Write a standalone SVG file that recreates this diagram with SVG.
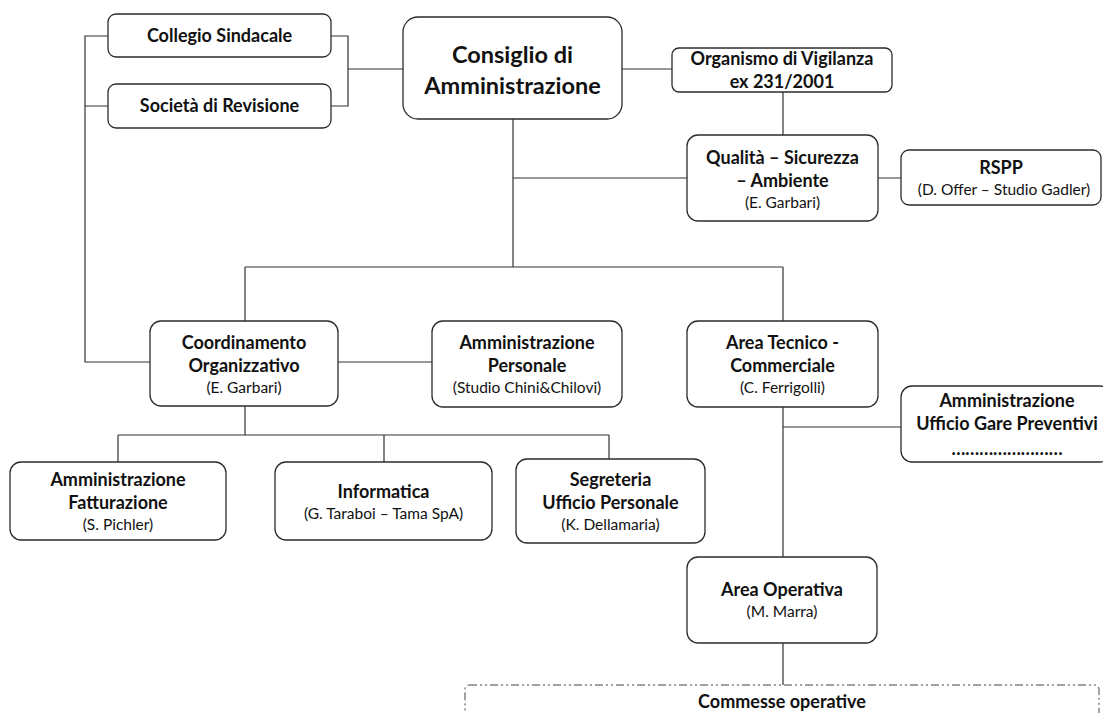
<svg xmlns="http://www.w3.org/2000/svg" width="1103" height="713" viewBox="0 0 1103 713">
<style>
.box{fill:#fff;stroke:#2b2b2b;stroke-width:1.3}
.ln{fill:none;stroke:#333;stroke-width:1.2}
.t{font-family:Lato,"Liberation Sans",sans-serif;font-weight:bold;font-size:18px;fill:#111;text-anchor:middle}
.s{font-family:Lato,"Liberation Sans",sans-serif;font-size:15.5px;fill:#111;text-anchor:middle}
.big{font-size:23.5px}
</style>
<rect width="1103" height="713" fill="#fff"/>
<g id="connectors">
<path class="ln" d="M331 36H348V106H331M348 69H403"/>
<path class="ln" d="M108 36H85V362H150M85 106H108"/>
<path class="ln" d="M622 69H672M783 92V135M878 178H901"/>
<path class="ln" d="M513 119V267M513 178H687M245 267H783M245 267V321M783 267V321"/>
<path class="ln" d="M338 362H432"/>
<path class="ln" d="M783 407V558M783 427H901M783 643V685"/>
<path class="ln" d="M245 406V435M118 435H609M118 435V462M384 435V462M609 435V459"/>
</g>
<g id="collegio"><rect class="box" x="108" y="14" width="223" height="43" rx="8"/><text class="t" x="219.5" y="42">Collegio Sindacale</text></g>
<g id="revisione"><rect class="box" x="108" y="84" width="223" height="44" rx="8"/><text class="t" x="219.5" y="112">Società di Revisione</text></g>
<g id="consiglio"><rect class="box" x="403" y="17" width="219" height="102" rx="15"/><text class="t big" x="512.5" y="63">Consiglio di</text><text class="t big" x="512.5" y="94">Amministrazione</text></g>
<g id="organismo"><rect class="box" x="672" y="48" width="220" height="44" rx="7"/><text class="t" x="782" y="65">Organismo di Vigilanza</text><text class="t" x="782" y="88">ex 231/2001</text></g>
<g id="qualita"><rect class="box" x="687" y="135" width="191" height="86" rx="11"/><text class="t" x="782.5" y="164">Qualità – Sicurezza</text><text class="t" x="782.5" y="187">– Ambiente</text><text class="s" x="782.5" y="208">(E. Garbari)</text></g>
<g id="rspp"><rect class="box" x="901" y="150" width="200" height="55" rx="8"/><text class="t" x="1001" y="174">RSPP</text><text class="s" x="1004" y="195">(D. Offer – Studio Gadler)</text></g>
<g id="coordinamento"><rect class="box" x="150" y="321" width="188" height="85" rx="11"/><text class="t" x="244" y="349">Coordinamento</text><text class="t" x="244" y="372">Organizzativo</text><text class="s" x="244" y="393">(E. Garbari)</text></g>
<g id="personale"><rect class="box" x="432" y="321" width="190" height="86" rx="11"/><text class="t" x="527" y="349">Amministrazione</text><text class="t" x="527" y="372">Personale</text><text class="s" x="527" y="393">(Studio Chini&amp;Chilovi)</text></g>
<g id="tecnico"><rect class="box" x="687" y="321" width="191" height="86" rx="11"/><text class="t" x="782.5" y="349">Area Tecnico -</text><text class="t" x="782.5" y="372">Commerciale</text><text class="s" x="782.5" y="393">(C. Ferrigolli)</text></g>
<g id="gare"><rect class="box" x="901" y="386" width="210" height="76" rx="11"/><text class="t" x="1007" y="407">Amministrazione</text><text class="t" x="1007" y="430">Ufficio Gare Preventivi</text><text class="t" x="1007" y="455">……………………</text></g>
<g id="fatturazione"><rect class="box" x="10" y="462" width="216" height="78" rx="11"/><text class="t" x="118" y="486">Amministrazione</text><text class="t" x="118" y="509">Fatturazione</text><text class="s" x="118" y="530">(S. Pichler)</text></g>
<g id="informatica"><rect class="box" x="275" y="462" width="217" height="78" rx="11"/><text class="t" x="383.5" y="498">Informatica</text><text class="s" x="383.5" y="519">(G. Taraboi – Tama SpA)</text></g>
<g id="segreteria"><rect class="box" x="516" y="459" width="189" height="84" rx="11"/><text class="t" x="610.5" y="486">Segreteria</text><text class="t" x="610.5" y="509">Ufficio Personale</text><text class="s" x="610.5" y="530">(K. Dellamaria)</text></g>
<g id="operativa"><rect class="box" x="687" y="557" width="190" height="86" rx="11"/><text class="t" x="782" y="596">Area Operativa</text><text class="s" x="782" y="617">(M. Marra)</text></g>
<g id="commesse"><rect x="465" y="685" width="634" height="40" rx="4" fill="#fff" stroke="#444" stroke-width="1" stroke-dasharray="8 3 2 3 2 3"/><text class="t" x="782" y="708">Commesse operative</text></g>
</svg>
